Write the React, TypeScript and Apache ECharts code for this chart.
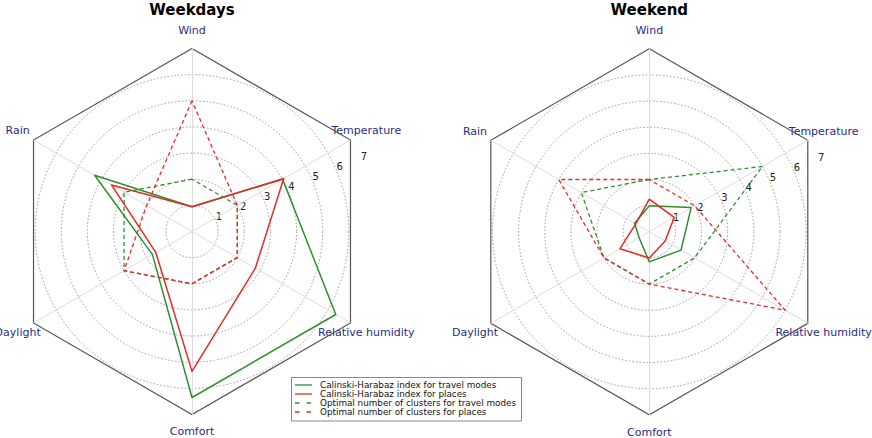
import React, { useEffect, useRef } from "react";
import * as echarts from "echarts";

// Indicators in ECharts (counter-clockwise from top) order
const indicators = ["Wind", "Rain", "Daylight", "Comfort", "Relative humidity", "Temperature"];
const tickLabels = ["1", "2", "3", "4", "5", "6", "7"];
const titles = ["Weekdays", "Weekend"];
const seriesNames = [
  "Calinski-Harabaz index for travel modes",
  "Calinski-Harabaz index for places",
  "Optimal number of clusters for travel modes",
  "Optimal number of clusters for places",
];

// Weekdays values, order: Wind, Rain, Daylight, Comfort, Relative humidity, Temperature
const wdCHTravel = [0.95, 4.3, 1.75, 6.35, 6.35, 4.0];
const wdCHPlaces = [0.95, 3.55, 1.6, 5.35, 2.8, 4.05];
const wdOptTravel = [2, 3, 3, 2, 2, 2];
const wdOptPlaces = [5, 2, 3, 2, 2, 2];

// Weekend values
const weCHTravel = [1.0, 0.65, 0.45, 1.15, 1.4, 1.85];
const weCHPlaces = [1.25, 0.6, 1.3, 1.0, 0.7, 1.1];
const weOptTravel = [2, 3, 2, 2, 2, 5];
const weOptPlaces = [2, 4, 2, 2, 6, 2];

const MAXV = 7;
const GREEN = "#2f8f2f";
const RED = "#e52a2a";
const FONT = "DejaVu Sans";

export default function App() {
  const ref = useRef<HTMLDivElement>(null);
  useEffect(() => {
    document.body.style.margin = "0";
    if (!ref.current) return;
    const chart = echarts.init(ref.current, null, { renderer: "svg" });
    const R = 183;
    const centers = [
      [192, 231.5],
      [649.3, 231.8],
    ];
    const unit = R / MAXV;

    const radars: any[] = [];
    centers.forEach((c) => {
      radars.push({
        center: c,
        radius: R,
        startAngle: 90,
        shape: "circle",
        splitNumber: MAXV,
        indicator: indicators.map((n) => ({ name: n, min: 0, max: MAXV })),
        axisName: { show: false },
        axisLine: { lineStyle: { color: "#dcdcdc", width: 1 } },
        axisTick: { show: false },
        axisLabel: { show: false },
        splitArea: { show: false },
        splitLine: {
          lineStyle: {
            color: ["#999", "#999", "#999", "#999", "#999", "#999", "#999", "rgba(0,0,0,0)"],
            type: [1.5, 2],
            width: 1,
          },
        },
      });
      radars.push({
        center: c,
        radius: R,
        startAngle: 90,
        shape: "polygon",
        splitNumber: 1,
        indicator: indicators.map((n) => ({ name: n, min: 0, max: MAXV })),
        axisName: { show: false },
        axisLine: { show: false },
        axisTick: { show: false },
        axisLabel: { show: false },
        splitArea: { show: false },
        splitLine: { lineStyle: { color: "#555", width: 1.2 } },
      });
    });

    const mk = (radarIndex: number, name: string, data: number[], color: string, dashed: boolean) => ({
      type: "radar",
      radarIndex,
      name,
      symbol: "none",
      silent: true,
      lineStyle: { color, width: dashed ? 1.3 : 1.5, type: dashed ? [4, 3] : "solid" },
      itemStyle: { color },
      data: [{ value: data, name }],
    });

    const series = [
      mk(0, seriesNames[0], wdCHTravel, GREEN, false),
      mk(0, seriesNames[1], wdCHPlaces, RED, false),
      mk(0, seriesNames[2], wdOptTravel, GREEN, true),
      mk(0, seriesNames[3], wdOptPlaces, RED, true),
      mk(2, seriesNames[0], weCHTravel, GREEN, false),
      mk(2, seriesNames[1], weCHPlaces, RED, false),
      mk(2, seriesNames[2], weOptTravel, GREEN, true),
      mk(2, seriesNames[3], weOptPlaces, RED, true),
    ];

    const graphics: any[] = [];
    centers.forEach((c, ci) => {
      graphics.push({
        type: "text",
        x: c[0],
        y: 10,
        style: {
          text: titles[ci],
          font: `bold 15px '${FONT}'`,
          fill: "#000",
          align: "center",
          verticalAlign: "middle",
        },
      });
      indicators.forEach((n, i) => {
        const a = ((90 + i * 60) * Math.PI) / 180;
        const rr = R * 1.1;
        graphics.push({
          type: "text",
          x: c[0] + rr * Math.cos(a),
          y: c[1] - rr * Math.sin(a) - (n === "Comfort" ? 1 : 0),
          style: {
            text: n,
            font: `11px '${FONT}'`,
            fill: "#2b2b86",
            align: "center",
            verticalAlign: "middle",
          },
        });
      });
      tickLabels.forEach((t) => {
        const v = Number(t);
        const a = (22.5 * Math.PI) / 180;
        graphics.push({
          type: "text",
          x: c[0] + v * unit * Math.cos(a) + 2.8,
          y: c[1] - v * unit * Math.sin(a) - 4.5,
          style: {
            text: t,
            font: `10px '${FONT}'`,
            fill: "#222",
            align: "center",
            verticalAlign: "middle",
          },
        });
      });
    });

    // Legend
    const lx = 291.5, ly = 377.5, lw = 230, lh = 43.5;
    graphics.push({
      type: "rect",
      shape: { x: lx, y: ly, width: lw, height: lh },
      style: { fill: "#fff", stroke: "#888", lineWidth: 1 },
    });
    const legendColors = [GREEN, RED, GREEN, RED];
    seriesNames.forEach((n, i) => {
      const yy = ly + 7.5 + i * 9;
      const dashed = i >= 2;
      graphics.push({
        type: "line",
        shape: { x1: lx + 3.5, y1: yy, x2: lx + 20.5, y2: yy },
        style: { stroke: legendColors[i], lineWidth: 1.3, lineDash: dashed ? [4.5, 7] : null },
      });
      graphics.push({
        type: "text",
        x: lx + 28.5,
        y: yy,
        style: {
          text: n,
          font: `8.8px '${FONT}'`,
          fill: "#111",
          align: "left",
          verticalAlign: "middle",
        },
      });
    });

    chart.setOption({
      animation: false,
      backgroundColor: "#fff",
      radar: radars,
      series,
      graphic: graphics,
    });
    return () => chart.dispose();
  }, []);
  return <div ref={ref} style={{ width: 872, height: 438 }} />;
}
